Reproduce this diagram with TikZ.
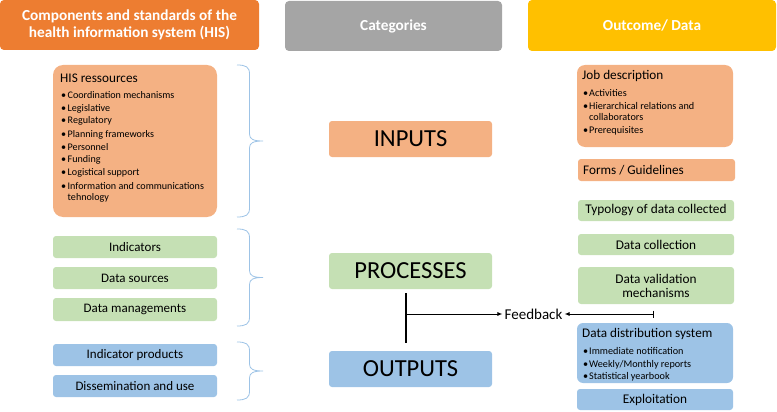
\documentclass[tikz,border=0pt]{standalone}
\usepackage{fontspec}
\setmainfont{Carlito}
\usetikzlibrary{arrows.meta}
\definecolor{hdrorange}{HTML}{ED7D31}
\definecolor{hdrgray}{HTML}{A5A5A5}
\definecolor{hdrgold}{HTML}{FFC000}
\definecolor{lorange}{HTML}{F4B183}
\definecolor{lgreen}{HTML}{C5E0B4}
\definecolor{lblue}{HTML}{9DC3E6}
\definecolor{bracecol}{HTML}{9DC3E6}
% box by corners: name, style, x1, y1, x2, y2, text
\newcommand{\rbx}[7]{\node[#2, minimum width={#5-#3}, minimum height={#6-#4}] (#1) at ({(#3+#5)/2},{(#4+#6)/2}) {#7};}
% brace by top / bottom y
\newcommand{\curlybrace}[2]{%
  \pgfmathsetmacro\ymid{(#1+#2)/2}%
  \draw[brc] (237,#1) .. controls (246,#1) and (249.5,#1+2) .. (249.5,#1+9)
    -- (249.5,\ymid-7) .. controls (249.5,\ymid-2) and (253,\ymid) .. (263,\ymid)
    .. controls (253,\ymid) and (249.5,\ymid+2) .. (249.5,\ymid+7)
    -- (249.5,#2-9) .. controls (249.5,#2-2) and (246,#2) .. (237,#2);}
\begin{document}
\begin{tikzpicture}[x=1pt,y=-1pt,
  boxbase/.style={inner sep=0pt, outer sep=0pt, align=center, draw=none},
  hdr/.style={boxbase, rounded corners=4pt, text=white, font=\fontsize{15.3}{17.5}\selectfont\bfseries},
  catbox/.style={boxbase, rounded corners=3pt, font=\fontsize{24.5}{28}\selectfont},
  lbox/.style={boxbase, rounded corners=3pt, font=\fontsize{13}{14}\selectfont},
  rbox/.style={boxbase, rounded corners=3pt, font=\fontsize{13.3}{14}\selectfont},
  ttl/.style={anchor=base west, inner sep=0pt, font=\fontsize{13.2}{15}\selectfont},
  bul/.style={anchor=base west, inner sep=0pt},
  brc/.style={draw=bracecol, line width=0.8pt},
  conn/.style={line width=0.9pt, black},
]
\useasboundingbox (0,0) rectangle (777,412);

% headers
\rbx{h1}{hdr, fill=hdrorange}{0}{0}{259}{50}{Components and standards of the\\health information system (HIS)}
\rbx{h2}{hdr, fill=hdrgray}{285}{1}{502}{51}{Categories}
\rbx{h3}{hdr, fill=hdrgold}{528}{0}{776}{51}{Outcome/ Data}

% left column
\rbx{hisres}{boxbase, fill=lorange, rounded corners=10pt}{53}{65}{217}{217}{}
\node[ttl] (histitle) at (60,82) {HIS ressources};
\foreach \yy/\tt [count=\i] in {98.5/Coordination mechanisms, 111.5/Legislative, 124/Regulatory, 137/Planning frameworks, 150/Personnel, 162.5/Funding, 175.5/Logistical support, 189/Information and communications}{
  \node[bul, font=\fontsize{10.1}{11}\selectfont] (hb\i) at (61,\yy) {\makebox[6.5pt][l]{\textbullet}\tt};
}
\node[bul, font=\fontsize{10.1}{11}\selectfont] (hb9) at (67.5,200) {tehnology};

\rbx{ind}{lbox, fill=lgreen}{53}{236}{217}{258}{Indicators}
\rbx{dsrc}{lbox, fill=lgreen}{53}{267}{217}{289}{Data sources}
\rbx{dman}{lbox, fill=lgreen}{53}{298}{217}{321}{Data managements}
\rbx{iprod}{lbox, fill=lblue}{53}{344}{217}{366}{Indicator products}
\rbx{diss}{lbox, fill=lblue}{53}{375}{217}{397}{Dissemination and use}

% braces
\curlybrace{65}{217}
\curlybrace{229}{326}
\curlybrace{342}{400}

% center column
\rbx{inputs}{catbox, fill=lorange}{329}{121}{492}{157}{INPUTS}
\rbx{processes}{catbox, fill=lgreen}{329}{253}{492}{289}{PROCESSES}
\rbx{outputs}{catbox, fill=lblue}{329}{351}{492}{387}{OUTPUTS}

% right column
\rbx{job}{boxbase, fill=lorange, rounded corners=8pt}{577}{65}{733}{147}{}
\node[ttl] (jobtitle) at (582,79.5) {Job description};
\node[bul, font=\fontsize{10.2}{11}\selectfont] (jb1) at (583,96.5) {\makebox[6pt][l]{\textbullet}Activities};
\node[bul, font=\fontsize{10.2}{11}\selectfont] (jb2) at (583,110) {\makebox[6pt][l]{\textbullet}Hierarchical relations and};
\node[bul, font=\fontsize{10.2}{11}\selectfont] (jb3) at (589,120.5) {collaborators};
\node[bul, font=\fontsize{10.2}{11}\selectfont] (jb4) at (583,133.5) {\makebox[6pt][l]{\textbullet}Prerequisites};

\rbx{forms}{boxbase, fill=lorange, rounded corners=3pt}{578}{159}{735}{181}{}
\node[anchor=west, inner sep=0pt, font=\fontsize{13.2}{15}\selectfont] (formst) at (583,170) {Forms / Guidelines};

\rbx{typ}{rbox, fill=lgreen}{578}{200}{734}{221}{Typology of data collected}
\rbx{dcol}{rbox, fill=lgreen}{578}{234}{734}{255}{Data collection}
\rbx{dval}{rbox, fill=lgreen}{578}{267}{734}{304}{Data validation\\mechanisms}

\rbx{dist}{boxbase, fill=lblue, rounded corners=6pt}{577}{323}{733}{383}{}
\node[ttl] (disttitle) at (582,337.5) {Data distribution system};
\node[bul, font=\fontsize{10.2}{11}\selectfont] (db1) at (583,354.5) {\makebox[6pt][l]{\textbullet}Immediate notification};
\node[bul, font=\fontsize{10.2}{11}\selectfont] (db2) at (583,367) {\makebox[6pt][l]{\textbullet}Weekly/Monthly reports};
\node[bul, font=\fontsize{10.2}{11}\selectfont] (db3) at (583,379.5) {\makebox[6pt][l]{\textbullet}Statistical yearbook};
\rbx{expl}{rbox, fill=lblue}{577}{389}{733}{410}{Exploitation}

% feedback
\node[inner sep=2pt, font=\fontsize{15}{17}\selectfont] (fb) at (533.5,314) {Feedback};
\coordinate (v1) at (406,293);
\coordinate (v2) at (406,343);
\coordinate (vj) at (406,314);
\coordinate (barpt) at (654,314);
\draw[conn, line width=1.1pt] (v1) -- (v2);
\draw[conn, -{Latex[length=5pt,width=4pt]}] (vj) -- (fb.west);
\draw[conn, {Bar[width=7pt]}-{Latex[length=5pt,width=4pt]}] (barpt) -- (fb.east);
\end{tikzpicture}
\end{document}
